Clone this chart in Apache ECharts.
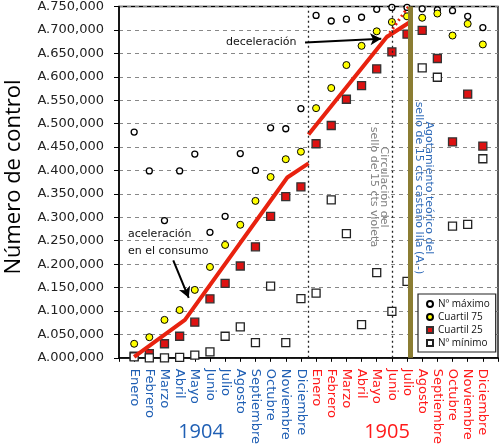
<!DOCTYPE html>
<html>
<head>
<meta charset="utf-8">
<title>Número de control</title>
<script src="https://cdn.jsdelivr.net/npm/echarts@6/dist/echarts.min.js"></script>
<style>
  html, body { margin: 0; padding: 0; background: #fff; }
  #chart { width: 500px; height: 447px; }
</style>
</head>
<body>
<div id="chart"></div>
<script>
// meses (1..24 en el eje x)
var meses = ['Enero','Febrero','Marzo','Abril','Mayo','Junio','Julio','Agosto','Septiembre','Octubre','Noviembre','Diciembre',
             'Enero','Febrero','Marzo','Abril','Mayo','Junio','Julio','Agosto','Septiembre','Octubre','Noviembre','Diciembre'];
var anios = ['1904', '1905'];
// valores en miles (A.xxx,000)
var nMaximo  = [482, 399, 293, 399, 435, 268, 302, 436, 400, 491, 489, 532, 731, 719, 723, 727, 744, 748, 748, 745, 743, 741, 729, 705];
var cuartil75 = [30, 44, 81, 102, 145, 194, 241, 284, 335, 386, 424, 440, 533, 576, 625, 666, 697, 717, 729, 726, 735, 688, 713, 669];
var cuartil25 = [3.5, 9, 30, 46, 76, 126, 159, 196, 237, 302, 344, 365, 457, 496, 552, 581, 617, 653, 691, 699, 639, 461, 563, 452];
var nMinimo  = [2, 0, 0, 1, 5.6, 12.7, 46, 66, 32.5, 153, 32.5, 126.5, 138, 337, 265, 71, 182, 99, 163, 619, 599, 281, 285, 425];
// tendencias
var tramo1904 = [[1, 2], [4.35, 81], [11.1, 385], [12.5, 415]];
var tramo1905 = [[12.5, 477], [17.66, 685], [19.2, 717]];
var tramoExtrapolado = [[17.66, 685], [19.1, 750]];
// lineas verticales
var finAnio = 12.5, junio1905 = 18, agotamiento = 19.2;

function pares(arr) {
    return arr.map(function (v, i) { return [i + 1, v]; });
}
function pad3(v) {
    var s = String(v);
    while (s.length < 3) s = '0' + s;
    return s;
}

var chart = echarts.init(document.getElementById('chart'));
chart.setOption({
    animation: false,
    textStyle: { fontFamily: 'DejaVu Sans' },
    grid: { left: 119, right: 2, top: 6, bottom: 87, show: true, borderColor: '#000', borderWidth: 1.3 },
    legend: {
        orient: 'vertical', left: 418, top: 294,
        padding: [5, 6, 4, 8], itemGap: 3, itemWidth: 6, itemHeight: 6,
        backgroundColor: '#fff', borderColor: '#222', borderWidth: 1.2, borderRadius: 0,
        textStyle: { fontFamily: 'Open Sans', fontSize: 10, color: '#111' },
        data: [
            { name: 'Nº máximo', icon: 'circle' },
            { name: 'Cuartil 75', icon: 'circle' },
            { name: 'Cuartil 25', icon: 'rect' },
            { name: 'Nº mínimo', icon: 'rect' }
        ]
    },
    xAxis: {
        type: 'value', min: 0, max: 25, interval: 1,
        splitLine: { show: false },
        axisLine: { lineStyle: { color: '#000', width: 1.5 } },
        axisTick: { length: 4, lineStyle: { color: '#000' } },
        axisLabel: {
            rotate: -90, margin: 11, fontSize: 13,
            formatter: function (v) {
                if (v < 1 || v > 24) return '';
                return (v <= 12 ? '{a|' : '{b|') + meses[v - 1] + '}';
            },
            rich: {
                a: { color: '#1f5fb4', fontSize: 13, fontFamily: 'DejaVu Sans' },
                b: { color: '#ff1a1a', fontSize: 13, fontFamily: 'DejaVu Sans' }
            }
        }
    },
    yAxis: {
        type: 'value', min: 0, max: 750, interval: 50,
        axisLine: { show: true, lineStyle: { color: '#000', width: 1.5 } },
        axisTick: { show: true, length: 5, lineStyle: { color: '#000' } },
        splitLine: { lineStyle: { color: '#888', type: [4, 4], width: 1 } },
        axisLabel: {
            margin: 15, fontSize: 13, color: '#222',
            formatter: function (v) { return 'A.' + pad3(v) + ',000'; }
        }
    },
    series: [
        {
            type: 'line', silent: true, data: [], z: 1,
            markLine: {
                silent: true, symbol: 'none', label: { show: false },
                data: [
                    { xAxis: finAnio, lineStyle: { color: '#222', type: [2, 3], width: 1.3 } },
                    { xAxis: junio1905, lineStyle: { color: '#222', type: [2, 3], width: 1.3 } },
                    { xAxis: agotamiento, lineStyle: { color: '#8b7d33', type: 'solid', width: 5 } }
                ]
            }
        },
        {
            name: 'Nº máximo', type: 'scatter', z: 3, symbol: 'circle', symbolSize: 6,
            itemStyle: { color: '#fff', borderColor: '#000', borderWidth: 1.3, opacity: 1 },
            data: pares(nMaximo)
        },
        {
            name: 'Cuartil 75', type: 'scatter', z: 3, symbol: 'circle', symbolSize: 7,
            itemStyle: { color: '#ffff00', borderColor: '#000', borderWidth: 1, opacity: 1 },
            data: pares(cuartil75)
        },
        {
            name: 'Cuartil 25', type: 'scatter', z: 3, symbol: 'rect', symbolSize: 8,
            itemStyle: { color: '#dd1111', borderColor: '#333', borderWidth: 1.3, opacity: 1 },
            data: pares(cuartil25)
        },
        {
            name: 'Nº mínimo', type: 'scatter', z: 3, symbol: 'rect', symbolSize: 8,
            itemStyle: { color: '#fff', borderColor: '#222', borderWidth: 1.3, opacity: 1 },
            data: pares(nMinimo)
        },
        {
            type: 'line', z: 4, symbol: 'none', silent: true,
            lineStyle: { color: '#e8220f', width: 4 },
            data: tramo1904
        },
        {
            type: 'line', z: 4, symbol: 'none', silent: true,
            lineStyle: { color: '#e8220f', width: 4 },
            data: tramo1905
        },
        {
            type: 'line', z: 4, symbol: 'none', silent: true,
            lineStyle: { color: '#e8220f', width: 3, type: [2, 3] },
            data: tramoExtrapolado,
            markLine: {
                silent: true, symbol: ['none', 'arrow'], symbolSize: [9, 11],
                label: { show: false },
                lineStyle: { color: '#000', width: 2, type: 'solid' },
                data: [
                    [{ coord: [12.27, 673] }, { coord: [17.3, 681] }],
                    [{ coord: [3.58, 208] }, { coord: [4.6, 128] }]
                ]
            }
        }
    ],
    graphic: [
        {
            type: 'text', x: 14, y: 177, rotation: Math.PI / 2,
            style: { text: 'Número de control', font: '22px "Open Sans"', fill: '#000', textAlign: 'center', textVerticalAlign: 'middle' }
        },
        {
            type: 'text', x: 201, y: 432,
            style: { text: anios[0], font: '20px "Open Sans"', fill: '#1f5fb4', textAlign: 'center', textVerticalAlign: 'middle' }
        },
        {
            type: 'text', x: 387, y: 432,
            style: { text: anios[1], font: '20px "Open Sans"', fill: '#ff1a1a', textAlign: 'center', textVerticalAlign: 'middle' }
        },
        {
            type: 'text', x: 226, y: 42,
            style: { text: 'deceleración', font: '11px "DejaVu Sans"', fill: '#111', textAlign: 'left', textVerticalAlign: 'middle' }
        },
        {
            type: 'text', x: 128, y: 226,
            style: { text: 'aceleración\nen el consumo', font: '11px "DejaVu Sans"', lineHeight: 16.5, fill: '#111', textAlign: 'left', textVerticalAlign: 'top' }
        },
        {
            type: 'text', x: 379, y: 187, rotation: -Math.PI / 2,
            style: { text: 'Circulación del\nsello de 15 cts violeta', font: '11px "DejaVu Sans"', lineHeight: 10.5, fill: '#808080', textAlign: 'center', textVerticalAlign: 'middle' }
        },
        {
            type: 'text', x: 424, y: 188, rotation: -Math.PI / 2,
            style: { text: 'Agotamiento teórico del\nsello de 15 cts castaño lila (A.-)', font: '11px "DejaVu Sans"', lineHeight: 10.5, fill: '#2e6ab8', textAlign: 'center', textVerticalAlign: 'middle' }
        }
    ]
});
</script>
</body>
</html>
